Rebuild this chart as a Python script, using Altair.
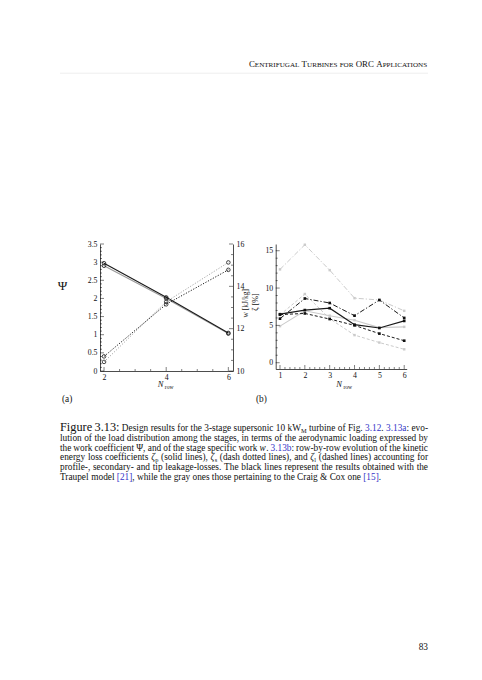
import altair as alt
import pandas as pd
import numpy as np

FONT = "Liberation Serif"
INK = "#111111"

# ---------------- panel (a): load distribution ----------------
N_a = [2, 4, 6]
psi_traupel = [2.97, 2.03, 1.05]
psi_craigcox = [2.90, 2.00, 1.03]
w_traupel = [10.69, 13.15, 14.78]
w_craigcox = [10.43, 13.27, 15.13]

# ---------------- panel (b): loss coefficients [%] ----------------
N_b = [1, 2, 3, 4, 5, 6]
zp_traupel = [6.5, 7.05, 7.3, 5.1, 4.65, 5.6]
zs_traupel = [5.9, 8.6, 8.0, 6.3, 8.4, 6.0]
zl_traupel = [6.45, 6.6, 5.85, 5.0, 3.9, 2.95]
zp_craigcox = [4.9, 6.95, 6.3, 5.7, 4.7, 4.8]
zs_craigcox = [12.5, 15.8, 12.4, 8.65, 8.4, 6.95]
zl_craigcox = [6.4, 9.2, 5.9, 3.7, 2.7, 1.8]

# ---------------- axis ticks ----------------
psi_ticks = [0, 0.5, 1, 1.5, 2, 2.5, 3, 3.5]
psi_minor = [round(v, 2) for v in np.arange(0.1, 3.5, 0.1) if round(v * 10) % 5 != 0]
w_ticks = [10, 12, 14, 16]
w_minor = [10.5, 11, 11.5, 12.5, 13, 13.5, 14.5, 15, 15.5]
xa_ticks = [2, 4, 6]
xa_minor = [2.5, 3, 3.5, 4.5, 5, 5.5]
zeta_ticks = [0, 5, 10, 15]
zeta_minor = [1, 2, 3, 4, 6, 7, 8, 9, 11, 12, 13, 14]
xb_ticks = [1, 2, 3, 4, 5, 6]
xb_minor = [round(v, 2) for v in np.arange(1.2, 6.0, 0.2) if abs(v - round(v)) > 0.05]

# ---------------- page text ----------------
header_tokens = [[("C", "scb"), ("ENTRIFUGAL", "scs")], [("T", "scb"), ("URBINES", "scs")],
                 [("FOR", "scs")], [("ORC", "scb")], [("A", "scb"), ("PPLICATIONS", "scs")]]
caption_lines = [
    [[("Figure", "big")], [("3.13:", "big")], "Design", "results", "for", "the", "3-stage", "supersonic",
     "10", [("kW", "n"), ("M", "sub")], "turbine", "of", "Fig.", [("3.12", "blue"), (".", "n")],
     [("3.13a", "blue"), (":", "n")], "evo-"],
    "lution of the load distribution among the stages, in terms of the aerodynamic loading expressed by".split(),
    "the work coefficient Ψ, and of the stage specific work".split()
    + [[("w", "it"), (".", "n")], [("3.13b", "blue"), (":", "n")]]
    + "row-by-row evolution of the kinetic".split(),
    "energy loss coefficients".split() + [[("ζ", "it"), ("p", "sub")], "(solid", "lines),",
                                          [("ζ", "it"), ("s", "sub")]]
    + "(dash dotted lines), and".split() + [[("ζ", "it"), ("l", "sub")]]
    + "(dashed lines) accounting for".split(),
    "profile-, secondary- and tip leakage-losses. The black lines represent the results obtained with the".split(),
    "Traupel model".split() + [[("[21]", "blue"), (",", "n")]]
    + "while the gray ones those pertaining to the Craig & Cox one".split() + [[("[15]", "blue"), (".", "n")]],
]
page_number = "83"

# ---------------- layout constants ----------------
WA, HA = 133, 127
WB, HB = 131, 125
AX0, AY0 = 100, 243.3
SP = 42.7
TX = AX0 + WA + SP + WB + SP
TY = AY0

TW = {' ': 250, '%': 833, '&': 778, '(': 333, ')': 333, ',': 250, '-': 333, '.': 250, '/': 278,
      ':': 278, '[': 333, ']': 333, 'Ψ': 780, 'ζ': 440,
      'A': 722, 'B': 667, 'C': 667, 'D': 722, 'E': 611, 'F': 556, 'G': 722, 'H': 722, 'I': 333,
      'J': 389, 'K': 722, 'L': 611, 'M': 889, 'N': 722, 'O': 722, 'P': 556, 'Q': 722, 'R': 667,
      'S': 556, 'T': 611, 'U': 722, 'V': 722, 'W': 944, 'X': 722, 'Y': 722, 'Z': 611,
      'a': 444, 'b': 500, 'c': 444, 'd': 500, 'e': 444, 'f': 333, 'g': 500, 'h': 500, 'i': 278,
      'j': 278, 'k': 500, 'l': 278, 'm': 778, 'n': 500, 'o': 500, 'p': 500, 'q': 500, 'r': 333,
      's': 389, 't': 278, 'u': 500, 'v': 500, 'w': 722, 'x': 500, 'y': 500, 'z': 444}


def tw(s, fs):
    return sum(TW.get(ch, 500) for ch in s) * fs / 1000.0


BODY = 9.3
STY = {
    "n": dict(fs=BODY, c=INK, dy=0, it=False),
    "big": dict(fs=12.3, c=INK, dy=0, it=False),
    "blue": dict(fs=BODY, c="#3535c8", dy=0, it=False),
    "sub": dict(fs=6.4, c=INK, dy=1.8, it=False),
    "it": dict(fs=BODY, c=INK, dy=0, it=True),
    "scb": dict(fs=8.9, c=INK, dy=0, it=False),
    "scs": dict(fs=7.1, c=INK, dy=0, it=False),
}


def layout_line(tokens, x0, x1, y, justify, right=False):
    toks = []
    for tok in tokens:
        segs = [(tok, "n")] if isinstance(tok, str) else tok
        toks.append(segs)
    k = 1.0
    total = sum(tw(t, STY[s]["fs"]) for segs in toks for t, s in segs)
    if justify and len(toks) > 1:
        min_gap = 1.6
        if total + min_gap * (len(toks) - 1) > x1 - x0:
            k = (x1 - x0 - min_gap * (len(toks) - 1)) / total
        gap = (x1 - x0 - total * k) / (len(toks) - 1)
    else:
        gap = tw(" ", STY[toks[0][0][1]]["fs"])
    if right:
        x0 = x1 - total - gap * (len(toks) - 1)
    rows = []
    x = x0
    for segs in toks:
        for t, s in segs:
            st = STY[s]
            fs = st["fs"] * k
            rows.append(dict(x=x - TX, y=y + st["dy"] - TY, t=t, fs=fs, c=st["c"], it=st["it"]))
            x += tw(t, fs)
        x += gap
    return rows


rows = layout_line(header_tokens, 60, 428, 66.5, False, right=True)
for i, ln in enumerate(caption_lines):
    rows += layout_line(ln, 60, 428, 430.5 + 9.7 * i, i < len(caption_lines) - 1)
rows += layout_line([page_number], 60, 428, 649, False, right=True)
rows += layout_line(["(a)"], 62, 100, 401, False)
rows += layout_line(["(b)"], 256, 300, 401, False)
words = pd.DataFrame(rows)


def word_layer(df, italic):
    return alt.Chart(df).mark_text(font=FONT, align="left", baseline="alphabetic",
                                   fontStyle="italic" if italic else "normal").encode(
        x=alt.X("x:Q", scale=None, axis=None),
        y=alt.Y("y:Q", scale=None, axis=None),
        text="t:N",
        size=alt.Size("fs:Q", scale=None, legend=None),
        color=alt.Color("c:N", scale=None, legend=None),
    )


one = pd.DataFrame({"a": [0]})
page_rect = alt.Chart(one).mark_rect(opacity=0).encode(
    x=alt.value(-TX), x2=alt.value(482 - TX), y=alt.value(-TY), y2=alt.value(680 - TY))
header_rule = alt.Chart(one).mark_rule(color="#e6e6e6", strokeWidth=0.7).encode(
    x=alt.value(60 - TX), x2=alt.value(428 - TX), y=alt.value(72.5 - TY))
text_chart = alt.layer(
    page_rect, header_rule,
    word_layer(words[~words.it], False),
    word_layer(words[words.it], True),
).properties(width=1, height=1)


# ---------------- helpers ----------------
def mk_axis(values, orient, pad):
    return alt.Axis(values=values, orient=orient, ticks=False, tickSize=0, grid=False, title=None,
                    domainColor="black", domainWidth=0.7, labelFont=FONT, labelFontSize=7.8,
                    labelColor=INK, labelPadding=pad, format="~g")


def series(xs, ys, xsc, ysc, xax, yax, color, width, dash=None, point=None):
    d = pd.DataFrame({"x": xs, "y": ys})
    base = alt.Chart(d).encode(x=alt.X("x:Q", scale=xsc, axis=xax), y=alt.Y("y:Q", scale=ysc, axis=yax))
    kw = dict(color=color, strokeWidth=width)
    if dash:
        kw["strokeDash"] = dash
    out = [base.mark_line(**kw)]
    if point:
        out.append(base.mark_point(opacity=1, **point))
    return out


def yticks(vals, ysc, yax, length, x0):
    d = pd.DataFrame({"v": vals})
    return alt.Chart(d).mark_rule(color="black", strokeWidth=0.5).encode(
        y=alt.Y("v:Q", scale=ysc, axis=yax), x=alt.value(x0), x2=alt.value(x0 + length))


def xticks(vals, xsc, xax, length, H):
    d = pd.DataFrame({"v": vals})
    return alt.Chart(d).mark_rule(color="black", strokeWidth=0.5).encode(
        x=alt.X("v:Q", scale=xsc, axis=xax), y=alt.value(H - length), y2=alt.value(H))


def label(text, x, y, size, angle=0, align="center", italic=False):
    return alt.Chart(pd.DataFrame({"t": [text]})).mark_text(
        font=FONT, fontSize=size, angle=angle, align=align, baseline="middle", color=INK,
        fontStyle="italic" if italic else "normal").encode(x=alt.value(x), y=alt.value(y), text="t:N")


# ---------------- panel (a) ----------------
xa = alt.Scale(domain=[1.87, 6.15], nice=False, zero=False)
ya = alt.Scale(domain=[0, 3.5], nice=False, zero=False)
yw = alt.Scale(domain=[10, 16], nice=False, zero=False)
ax_xa = mk_axis(xa_ticks, "bottom", 2)
ax_psi = mk_axis(psi_ticks, "left", 3)
ax_w = mk_axis(w_ticks, "right", 3)
circ = dict(shape="circle", size=13, filled=False, color="#1a1a1a", strokeWidth=0.8)

psi_group = alt.layer(
    *series(N_a, psi_craigcox, xa, ya, ax_xa, ax_psi, "#9a9a9a", 1.1),
    *series(N_a, psi_traupel, xa, ya, ax_xa, ax_psi, "#1a1a1a", 1.1),
    *series(N_a, psi_craigcox, xa, ya, ax_xa, ax_psi, "#9a9a9a", 0, point=circ)[1:],
    *series(N_a, psi_traupel, xa, ya, ax_xa, ax_psi, "#1a1a1a", 0, point=circ)[1:],
    yticks(psi_ticks, ya, ax_psi, 4, 0),
    yticks(psi_minor, ya, ax_psi, 2, 0),
    xticks(xa_ticks, xa, ax_xa, 4, HA),
    xticks(xa_minor, xa, ax_xa, 2, HA),
)
w_group = alt.layer(
    *series(N_a, w_craigcox, xa, yw, ax_xa, ax_w, "#a8a8a8", 1.0, dash=[1.2, 1.6], point=circ),
    *series(N_a, w_traupel, xa, yw, ax_xa, ax_w, "#1a1a1a", 1.0, dash=[1.2, 1.6], point=circ),
    yticks(w_ticks, yw, ax_w, 4, WA - 4),
    yticks(w_minor, yw, ax_w, 2, WA - 2),
)
labels_a = alt.layer(
    label("Ψ", 62.5 - AX0, 285 - AY0, 13),
    label("w [kJ/kg]", 245.5 - AX0, 302.5 - AY0, 7.5, angle=270),
    label("N", 60.5, 140, 8.5, italic=True),
    label("row", 64.8, 142.8, 5.5, align="left"),
)
panel_a = alt.layer(psi_group, w_group, labels_a).resolve_scale(y="independent").properties(
    width=WA, height=HA)

# ---------------- panel (b) ----------------
xb = alt.Scale(domain=[0.827, 6.1], nice=False, zero=False)
yb = alt.Scale(domain=[-0.84, 15.9], nice=False, zero=False)
ax_xb = mk_axis(xb_ticks, "bottom", 2)
ax_zb = mk_axis(zeta_ticks, "left", 3)
GRAY = "#cbcbcb"
gsq = dict(shape="square", size=6, filled=True, color=GRAY)
bsq = dict(shape="square", size=7, filled=True, color="#111111")
DASHDOT = [5, 2, 1.2, 2]
DASHED = [3, 2]

panel_b = alt.layer(
    *series(N_b, zs_craigcox, xb, yb, ax_xb, ax_zb, GRAY, 1.0, dash=DASHDOT, point=gsq),
    *series(N_b, zl_craigcox, xb, yb, ax_xb, ax_zb, GRAY, 1.0, dash=DASHED, point=gsq),
    *series(N_b, zp_craigcox, xb, yb, ax_xb, ax_zb, GRAY, 1.1, point=gsq),
    *series(N_b, zs_traupel, xb, yb, ax_xb, ax_zb, "#1a1a1a", 1.0, dash=DASHDOT, point=bsq),
    *series(N_b, zl_traupel, xb, yb, ax_xb, ax_zb, "#1a1a1a", 1.0, dash=DASHED, point=bsq),
    *series(N_b, zp_traupel, xb, yb, ax_xb, ax_zb, "#1a1a1a", 1.2, point=bsq),
    yticks(zeta_ticks, yb, ax_zb, 4, 0),
    yticks(zeta_minor, yb, ax_zb, 2, 0),
    xticks(xb_ticks, xb, ax_xb, 4, HB),
    xticks(xb_minor, xb, ax_xb, 2, HB),
    label("ζ [%]", -19.5, 58, 8, angle=270),
    label("N", 63.5, 140, 8.5, italic=True),
    label("row", 67.8, 142.8, 5.5, align="left"),
).properties(width=WB, height=HB)

chart = alt.hconcat(panel_a, panel_b, text_chart, spacing=SP, bounds="flush").properties(
    padding=0, background="white").configure_view(stroke=None)

chart.save("out.html", embed_options={"renderer": "svg", "actions": False})
